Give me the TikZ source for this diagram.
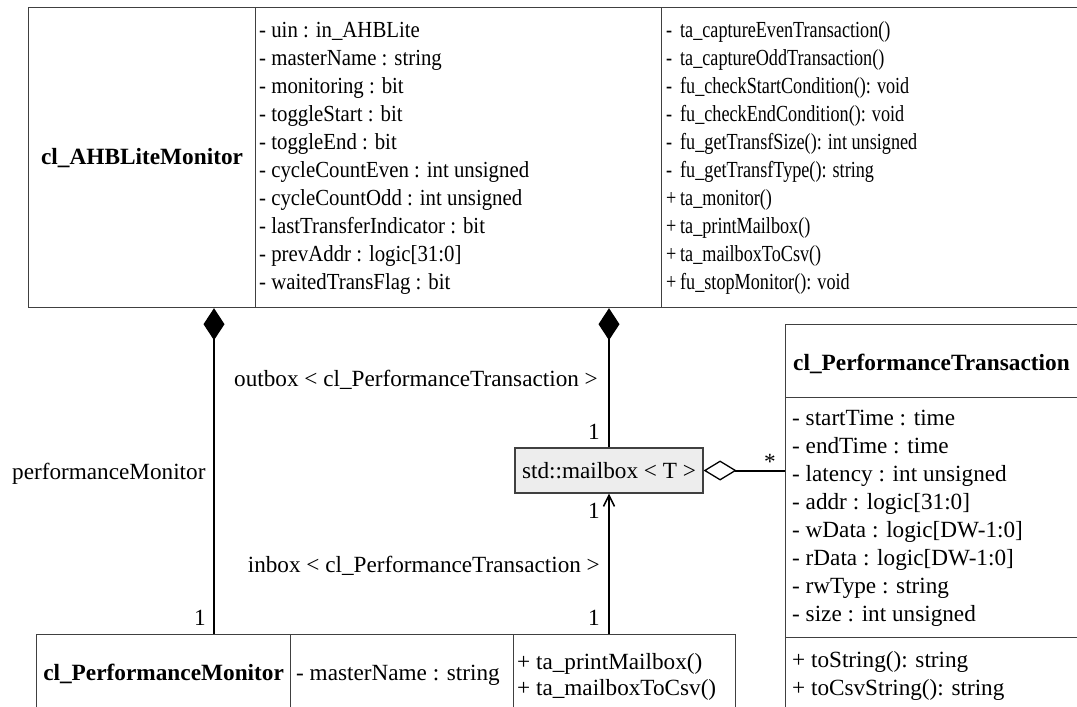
\documentclass[tikz,border=0pt]{standalone}
\usepackage{fontspec}
\setmainfont{Liberation Serif}
\newfontfamily\attrfont[FakeStretch=0.905]{Liberation Serif}
\newfontfamily\opfont[FakeStretch=0.79]{Liberation Serif}
\usetikzlibrary{arrows.meta}
\begin{document}
\begin{tikzpicture}[x=1pt,y=-1pt]
\tikzset{
  txt/.style={inner sep=0pt, font=\fontsize{23.2}{28}\selectfont},
  attrtxt/.style={inner sep=0pt, font=\attrfont\fontsize{23}{28}\selectfont},
  optxt/.style={inner sep=0pt, font=\opfont\fontsize{23}{28}\selectfont},
  titletxt/.style={inner sep=0pt, font=\fontsize{23.3}{28}\selectfont\bfseries},
  cell/.style={draw=black!75, line width=1.2pt, inner sep=0pt, anchor=north west},
  link/.style={draw=black, line width=1.4pt},
}
\useasboundingbox (0,0) rectangle (1077,707);
\fill[white] (0,0) rectangle (1077,707);
\clip (0,0) rectangle (1077,707);

% ---- class cl_AHBLiteMonitor ----
\node[cell, minimum width=227pt, minimum height=300pt] (ahbName) at (28,7) {};
\node[cell, minimum width=406pt, minimum height=300pt] (ahbAttr) at (255,7) {};
\node[cell, minimum width=440pt, minimum height=300pt] (ahbOps) at (661,7) {};
\node[titletxt] (ahbTitle) at (ahbName.center) {cl\_AHBLiteMonitor};
\foreach \s [count=\i from 0] in {
  {- uin : in\_AHBLite},
  {- masterName : string},
  {- monitoring : bit},
  {- toggleStart : bit},
  {- toggleEnd : bit},
  {- cycleCountEven : int unsigned},
  {- cycleCountOdd : int unsigned},
  {- lastTransferIndicator : bit},
  {- prevAddr : logic[31:0]},
  {- waitedTransFlag : bit}}
  \node[attrtxt, anchor=base west] (ahbA\i) at (259,{37+28.1*\i}) {\s};
\foreach \m/\s [count=\i from 0] in {
  -/ta\_captureEvenTransaction(),
  -/ta\_captureOddTransaction(),
  -/fu\_checkStartCondition(): void,
  -/fu\_checkEndCondition(): void,
  -/fu\_getTransfSize(): int unsigned,
  -/fu\_getTransfType(): string,
  +/ta\_monitor(),
  +/ta\_printMailbox(),
  +/ta\_mailboxToCsv(),
  +/fu\_stopMonitor(): void}
  \node[optxt, anchor=base west] (ahbO\i) at (666,{37+28.1*\i}) {\makebox[14pt][l]{\m}\s};

% ---- class cl_PerformanceTransaction ----
\node[cell, minimum width=320pt, minimum height=73pt] (ptName) at (785,324) {};
\node[cell, minimum width=320pt, minimum height=240pt] (ptAttr) at (785,397) {};
\node[cell, minimum width=320pt, minimum height=90pt] (ptOps) at (785,637) {};
\node[titletxt, anchor=base west] (ptTitle) at (793,370) {cl\_PerformanceTransaction};
\foreach \s [count=\i from 0] in {
  {- startTime : time},
  {- endTime : time},
  {- latency : int unsigned},
  {- addr : logic[31:0]},
  {- wData : logic[DW-1:0]},
  {- rData : logic[DW-1:0]},
  {- rwType : string},
  {- size : int unsigned}}
  \node[txt, anchor=base west] (ptA\i) at (792,{425+28.1*\i}) {\s};
\foreach \s [count=\i from 0] in {
  {+ toString(): string},
  {+ toCsvString(): string}}
  \node[txt, anchor=base west] (ptO\i) at (792,{667+28*\i}) {\s};

% ---- class cl_PerformanceMonitor ----
\node[cell, minimum width=254pt, minimum height=78pt] (pmName) at (36,634) {};
\node[cell, minimum width=223pt, minimum height=78pt] (pmAttr) at (290,634) {};
\node[cell, minimum width=222pt, minimum height=78pt] (pmOps) at (513,634) {};
\node[titletxt] (pmTitle) at (pmName.center) {cl\_PerformanceMonitor};
\node[txt, anchor=base west] (pmA0) at (296,680) {- masterName : string};
\node[txt, anchor=base west] (pmO0) at (517,669) {+ ta\_printMailbox()};
\node[txt, anchor=base west] (pmO1) at (517,695) {+ ta\_mailboxToCsv()};

% ---- template class std::mailbox ----
\node[draw=black!75, line width=1.2pt, fill=black!7, minimum width=188pt,
      minimum height=45pt, txt] (mbox) at (609,470.5) {std::mailbox < T >};

% ---- associations ----
\coordinate (leftX) at (214,0);
\draw[link, -{Diamond[length=32pt,width=21pt]}]
  (pmName.north -| leftX) -- (ahbName.south -| leftX);
\draw[link, -{Diamond[length=32pt,width=21pt]}]
  (mbox.north) -- (mbox.north |- ahbAttr.south);
\draw[link, line width=2pt, -{Straight Barb[length=11pt,width=11pt,line width=1.6pt]}]
  (mbox.south |- pmOps.north) -- (mbox.south);
\draw[link, line width=2pt, -{Diamond[length=33pt,width=20pt,line width=1.3pt,fill=white]}]
  (ptAttr.west |- mbox.east) -- (mbox.east);

% ---- role names and multiplicities ----
\node[txt, anchor=base east] (outLbl) at (598,386) {outbox < cl\_PerformanceTransaction >};
\node[txt, anchor=base east] (inLbl) at (600,572) {inbox < cl\_PerformanceTransaction >};
\node[txt, anchor=base west] (pmLbl) at (12,479) {performanceMonitor};
\node[txt] (mOutTop) at (594,432) {1};
\node[txt] (mInTop) at (594,511) {1};
\node[txt] (mInBot) at (594,618) {1};
\node[txt] (mPm) at (200,618) {1};
\node[txt, anchor=base] (mStar) at (770,469) {*};
\end{tikzpicture}
\end{document}
